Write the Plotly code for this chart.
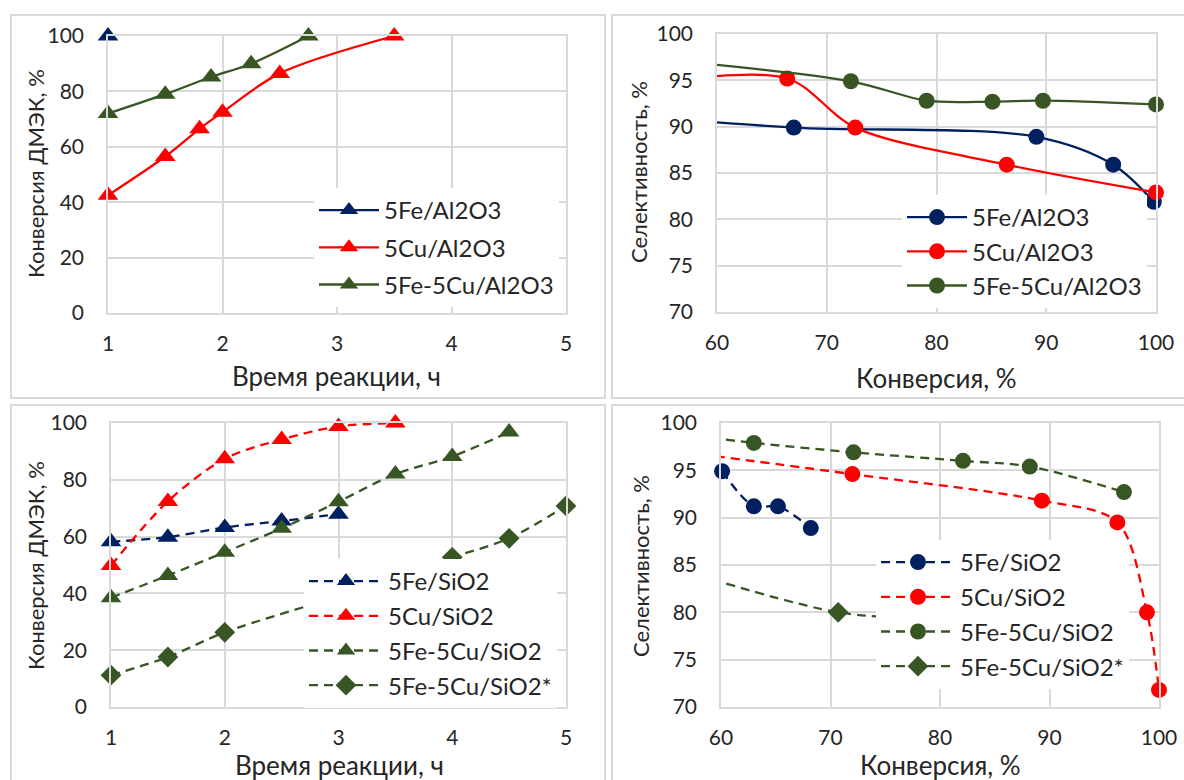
import plotly.graph_objects as go

W, H = 1184, 780

# ---------------- DATA ----------------
# Panel 1: conversion vs time, Al2O3
t_fe_al = [1]
conv_fe_al = [100]
t_cu_al = [1, 1.5, 1.8, 2, 2.5, 3.5]
conv_cu_al = [42.5, 56.5, 66.5, 72.5, 86.5, 100]
t_fecu_al = [1, 1.5, 1.9, 2.25, 2.75]
conv_fecu_al = [72, 79, 85.2, 90, 100]

# Panel 2: selectivity vs conversion, Al2O3
x_fe_al = [50, 67, 89.1, 96.1, 99.8]
sel_fe_al = [91.4, 89.9, 88.9, 85.9, 81.9]
x_cu_al = [54, 66.4, 72.6, 86.4, 100]
sel_cu_al = [94.6, 95.2, 89.9, 85.9, 82.9]
x_fecu_al = [50, 72.2, 79.1, 85.1, 89.7, 100]
sel_fecu_al = [97.8, 94.9, 92.8, 92.7, 92.8, 92.4]

# Panel 3: conversion vs time, SiO2
t_fe_si = [1, 1.5, 2, 2.5, 3]
conv_fe_si = [58.2, 59.8, 63.2, 65.5, 67.9]
t_cu_si = [1, 1.5, 2, 2.5, 3, 3.5]
conv_cu_si = [49.8, 72.4, 87.4, 94.2, 98.8, 100]
t_fecu_si = [1, 1.5, 2, 2.5, 3, 3.5, 4, 4.5]
conv_fecu_si = [38.5, 46.3, 54.5, 62.9, 72.3, 82, 88.2, 96.8]
t_fecu_si_s = [1, 1.5, 2, 3, 3.5, 4, 4.5, 5]
conv_fecu_si_s = [11.2, 17.6, 26.3, 39, 46, 52.7, 59.4, 70.8]

# Panel 4: selectivity vs conversion, SiO2
x_fe_si = [60.1, 63.0, 65.2, 68.2]
sel_fe_si = [94.9, 91.2, 91.2, 88.9]
x_cu_si = [50, 72.0, 89.3, 96.2, 98.9, 100]
sel_cu_si = [97.9, 94.6, 91.8, 89.5, 80.0, 71.8]
x_fecu_si = [55, 63.0, 72.1, 82.1, 88.2, 96.8]
sel_fecu_si = [99.0, 97.9, 96.9, 96.0, 95.4, 92.7]
x_fecu_si_s = [50, 70.7, 80]
sel_fecu_si_s = [86.8, 80.0, 79.4]

time_ticks = [1, 2, 3, 4, 5]
conv_ticks = [0, 20, 40, 60, 80, 100]
xconv_ticks = [60, 70, 80, 90, 100]
sel_ticks = [70, 75, 80, 85, 90, 95, 100]

# ---------------- STYLE ----------------
NAVY = "#002060"
RED = "#FF0000"
GREEN = "#375623"
GRID = "#D9D9D9"
TXT = "#262626"
FONT = "Lato"


def X(p):
    return p / W


def Y(p):
    return 1 - p / H


fig = go.Figure()


def add(xs, ys, name, color, symbol, msize, dash, ax, lg, lo):
    shown = [i for i, x in enumerate(xs) if x >= lo]
    fig.add_trace(go.Scatter(
        x=xs, y=ys, name=name, mode="lines+markers",
        line=dict(color=color, width=2.3, shape="spline", smoothing=0.9, dash=dash),
        marker=dict(color=color, symbol=symbol, size=msize, opacity=1,
                    line=dict(width=0)),
        selectedpoints=shown, selected=dict(marker=dict(opacity=1)),
        unselected=dict(marker=dict(opacity=0)),
        xaxis="x" + ax, yaxis="y" + ax, legend=lg, legendgroup=lg + name,
        cliponaxis=False,
    ))


DASH = "9px,6px"
TRI, CIR, DIA = 18, 16, 16
add(t_fe_al, conv_fe_al, "5Fe/Al2O3", NAVY, "triangle-up", TRI, "solid", "", "legend", 1)
add(t_cu_al, conv_cu_al, "5Cu/Al2O3", RED, "triangle-up", TRI, "solid", "", "legend", 1)
add(t_fecu_al, conv_fecu_al, "5Fe-5Cu/Al2O3", GREEN, "triangle-up", TRI, "solid", "", "legend", 1)

add(x_fe_al, sel_fe_al, "5Fe/Al2O3", NAVY, "circle", CIR, "solid", "2", "legend2", 60)
add(x_cu_al, sel_cu_al, "5Cu/Al2O3", RED, "circle", CIR, "solid", "2", "legend2", 60)
add(x_fecu_al, sel_fecu_al, "5Fe-5Cu/Al2O3", GREEN, "circle", CIR, "solid", "2", "legend2", 60)

add(t_fe_si, conv_fe_si, "5Fe/SiO2", NAVY, "triangle-up", TRI, DASH, "3", "legend3", 1)
add(t_cu_si, conv_cu_si, "5Cu/SiO2", RED, "triangle-up", TRI, DASH, "3", "legend3", 1)
add(t_fecu_si, conv_fecu_si, "5Fe-5Cu/SiO2", GREEN, "triangle-up", TRI, DASH, "3", "legend3", 1)
add(t_fecu_si_s, conv_fecu_si_s, "5Fe-5Cu/SiO2*", GREEN, "diamond", DIA, DASH, "3", "legend3", 1)

add(x_fe_si, sel_fe_si, "5Fe/SiO2", NAVY, "circle", CIR, DASH, "4", "legend4", 60)
add(x_cu_si, sel_cu_si, "5Cu/SiO2", RED, "circle", CIR, DASH, "4", "legend4", 60)
add(x_fecu_si, sel_fecu_si, "5Fe-5Cu/SiO2", GREEN, "circle", CIR, DASH, "4", "legend4", 60)
add(x_fecu_si_s, sel_fecu_si_s, "5Fe-5Cu/SiO2*", GREEN, "diamond", DIA, DASH, "4", "legend4", 60)


def xax(dom, rng, ticks, anchor):
    return dict(domain=[X(dom[0]), X(dom[1])], range=rng, tickvals=ticks,
                showgrid=True, gridcolor=GRID, gridwidth=1.5, zeroline=False,
                showline=True, linecolor=GRID, linewidth=1.5, mirror=True,
                ticks="", ticklabelstandoff=11, anchor=anchor, automargin=False,
                tickfont=dict(family=FONT, size=21, color=TXT))


def yax(dom, rng, ticks, anchor):
    return dict(domain=[Y(dom[1]), Y(dom[0])], range=rng, tickvals=ticks,
                showgrid=True, gridcolor=GRID, gridwidth=1.5, zeroline=False,
                showline=True, linecolor=GRID, linewidth=1.5, mirror=True,
                ticks="", ticklabelstandoff=18, anchor=anchor, automargin=False,
                tickfont=dict(family=FONT, size=21, color=TXT))


def leg(x, y, gap, iw):
    return dict(x=X(x), y=Y(y), xanchor="left", yanchor="top", xref="paper", yref="paper",
                bgcolor="white", borderwidth=0, itemwidth=iw, traceorder="grouped",
                font=dict(family=FONT, size=24, color=TXT), tracegroupgap=gap,
                itemclick=False)


fig.update_layout(
    width=W, height=H, margin=dict(l=0, r=0, t=0, b=0, pad=0, autoexpand=False),
    paper_bgcolor="white", plot_bgcolor="white",
    font=dict(family=FONT, color=TXT),
    xaxis=xax((108, 566), [1, 5], time_ticks, "y"),
    yaxis=yax((36, 313), [0, 100], conv_ticks, "x"),
    xaxis2=xax((717, 1156), [60, 100], xconv_ticks, "y2"),
    yaxis2=yax((34, 312), [70, 100], sel_ticks, "x2"),
    xaxis3=xax((111, 566), [1, 5], time_ticks, "y3"),
    yaxis3=yax((423, 707), [0, 100], conv_ticks, "x3"),
    xaxis4=xax((721, 1159), [60, 100], xconv_ticks, "y4"),
    yaxis4=yax((423, 707), [70, 100], sel_ticks, "x4"),
    legend=leg(314, 188, 3, 60),
    legend2=leg(902, 195, 0, 60),
    legend3=leg(304, 559, 0.5, 74),
    legend4=leg(876, 540, 0.5, 74),
    showlegend=True,
)

shapes = []
for (x0, y0, x1, y1) in [(11, 15, 605, 398), (612, 15, 1200, 398),
                         (11, 405, 605, 800), (612, 405, 1200, 800)]:
    shapes.append(dict(type="rect", xref="paper", yref="paper",
                       x0=X(x0), x1=X(x1), y0=Y(y1), y1=Y(y0),
                       line=dict(color=GRID, width=2), fillcolor="rgba(0,0,0,0)", layer="below"))
fig.update_layout(shapes=shapes)

ann = []


def title(text, x, y, rot=0, size=26):
    ann.append(dict(text=text, x=X(x), y=Y(y), xref="paper", yref="paper", showarrow=False,
                    textangle=rot, xanchor="center", yanchor="middle",
                    font=dict(family=FONT, size=size, color=TXT)))


title("Время реакции, ч", 336, 376)
title("Конверсия ДМЭК, %", 35, 174, -90, 22)
title("Конверсия, %", 936, 378)
title("Селективность, %", 638, 172, -90, 22)
title("Время реакции, ч", 339, 765)
title("Конверсия ДМЭК, %", 35, 566, -90, 22)
title("Конверсия, %", 940, 765)
title("Селективность, %", 640, 566, -90, 22)
fig.update_layout(annotations=ann)

fig.write_html("out.html")
